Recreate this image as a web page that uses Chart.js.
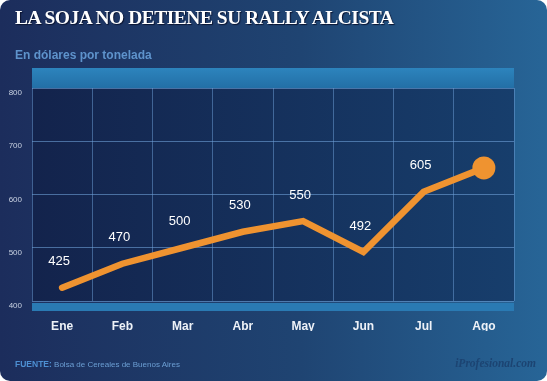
<!DOCTYPE html>
<html><head><meta charset="utf-8">
<script src="https://cdn.jsdelivr.net/npm/chart.js@4/dist/chart.umd.min.js"></script>
<style>
html,body{margin:0;padding:0;background:#fff;width:547px;height:381px;overflow:hidden}
#wrap{position:absolute;left:0;top:0;width:547px;height:381px;border-radius:10px;overflow:hidden;
background:linear-gradient(90deg,#1c2d5c 0%,#1f4472 55%,#276597 100%);}
#c{position:absolute;left:0;top:0}
.t{position:absolute;white-space:nowrap}
#title{left:15px;top:7px;font-family:"Liberation Serif","DejaVu Serif",serif;font-weight:bold;font-size:19.5px;color:#fff;letter-spacing:-0.5px;text-shadow:1px 1px 1px #0b1430}
#sub{left:15px;top:48px;font-family:"Liberation Sans",Arial,sans-serif;font-weight:bold;font-size:12px;color:#5e93cc}
#src{left:15px;top:359px;font-family:"Liberation Sans",Arial,sans-serif;font-size:8px;color:#6c9fd4}
#src b{color:#4d8fd2;font-size:8.5px}
#brand{right:11px;top:357px;font-family:"Liberation Serif",serif;font-style:italic;font-weight:bold;font-size:11.5px;color:#1c4472}
</style></head>
<body>
<div id="wrap">
<canvas id="c" width="547" height="381"></canvas>
<div class="t" id="title">LA SOJA NO DETIENE SU RALLY ALCISTA</div>
<div class="t" id="sub">En dólares por tonelada</div>
<div class="t" id="src"><b>FUENTE:</b> Bolsa de Cereales de Buenos Aires</div>
<div class="t" id="brand">iProfesional.com</div>
</div>
<script>
const categories = ['Ene','Feb','Mar','Abr','May','Jun','Jul','Ago'];
const prices = [425, 470, 500, 530, 550, 492, 605, 650];
const pointLabels = ['425','470','500','530','550','492','605',''];
const yTicks = [400, 500, 600, 700, 800];

const decor = {
  id:'decor',
  beforeDraw(chart){
    const {ctx, chartArea:a} = chart;
    const g = ctx.createLinearGradient(a.left,0,a.right,0);
    g.addColorStop(0,'#13234c'); g.addColorStop(1,'#173e6c');
    ctx.save(); ctx.fillStyle = g; ctx.fillRect(a.left,a.top,a.right-a.left,a.bottom-a.top); ctx.restore();
  },
  afterDraw(chart){
    const {ctx, chartArea:a} = chart;
    ctx.save();
    const g = ctx.createLinearGradient(0,a.top-20,0,a.top);
    g.addColorStop(0,'#2d84bd'); g.addColorStop(1,'#236fa6');
    ctx.fillStyle = g; ctx.fillRect(a.left,a.top-20,a.right-a.left,20);
    ctx.fillStyle = '#2a7ab3'; ctx.fillRect(a.left,a.bottom+2,a.right-a.left,8);
    ctx.restore();
  },
  afterDatasetsDraw(chart){
    const {ctx} = chart;
    const meta = chart.getDatasetMeta(0);
    ctx.save();
    ctx.font = '13px "Liberation Sans", Arial, sans-serif';
    ctx.fillStyle = '#ffffff'; ctx.textAlign = 'center'; ctx.textBaseline = 'middle';
    meta.data.forEach((p,i)=>{ if(pointLabels[i]) ctx.fillText(pointLabels[i], p.x-3, p.y-26); });
    ctx.restore();
  }
};

new Chart(document.getElementById('c'), {
  type:'line',
  data:{ labels:categories, datasets:[{
    data:prices, borderColor:'#ef9330', borderWidth:6.5, tension:0,
    borderCapStyle:'round', borderJoinStyle:'miter',
    pointRadius: prices.map((v,i)=> i===prices.length-1 ? 11.5 : 0),
    pointBackgroundColor:'#ef9330', pointBorderWidth:0, pointHoverRadius:0
  }]},
  plugins:[decor],
  options:{
    responsive:false, animation:false, devicePixelRatio:1,
    layout:{padding:{left:0,right:33,top:88,bottom:50}},
    plugins:{legend:{display:false},tooltip:{enabled:false}},
    scales:{
      x:{ offset:true,
        grid:{offset:true,color:'rgba(110,160,215,0.5)',lineWidth:1,drawTicks:false},
        border:{display:false},
        ticks:{color:'#eef2f8',font:{family:'"Liberation Sans", Arial, sans-serif',weight:'bold',size:12},padding:18},
        afterFit(s){ s.height = 30; }
      },
      y:{ min:400, max:800,
        afterBuildTicks(s){ s.ticks = yTicks.map(v=>({value:v})); },
        grid:{color:'rgba(110,160,215,0.6)',lineWidth:1,drawTicks:false},
        border:{display:false},
        ticks:{color:'#c9d2e2',font:{family:'"Liberation Sans", Arial, sans-serif',size:8},padding:10,labelOffset:5},
        afterFit(s){ s.width = 32; }
      }
    }
  }
});
</script>
</body></html>
